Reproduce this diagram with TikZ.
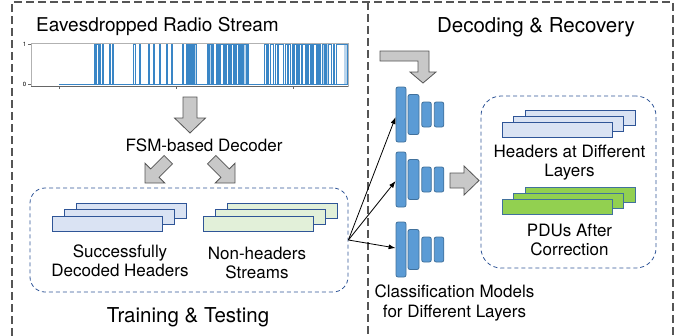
\documentclass[tikz,border=0pt]{standalone}
\usepackage{fontspec}
\setmainfont{TeX Gyre Heros}
\usetikzlibrary{arrows.meta}
\definecolor{framegray}{HTML}{555555}
\definecolor{boxblue}{HTML}{2F5597}
\definecolor{lightblue}{HTML}{DAE3F3}
\definecolor{lightgreen}{HTML}{E2F0D9}
\definecolor{brightgreen}{HTML}{92D050}
\definecolor{nnblue}{HTML}{5B9BD5}
\definecolor{nnborder}{HTML}{41719C}
\definecolor{arrowgray}{HTML}{C8C8C8}
\definecolor{sig}{HTML}{3A86C6}
\definecolor{siglight}{HTML}{BBD5EC}
\begin{document}
\begin{tikzpicture}[x=1pt,y=-1pt,
  outerframe/.style={draw=framegray, line width=1.3pt, dash pattern=on 8pt off 4pt},
  groupbox/.style={draw=boxblue, line width=0.8pt, dash pattern=on 4pt off 3pt, inner sep=0pt},
  layer/.style={draw=boxblue, line width=0.9pt, minimum width=110pt, minimum height=15pt, inner sep=0pt},
  bluelayer/.style={layer, fill=lightblue},
  greenlayer/.style={layer, fill=lightgreen},
  pdulayer/.style={layer, fill=brightgreen, draw=nnborder},
  nnbar/.style={draw=nnborder, fill=nnblue, rounded corners=2pt, line width=0.8pt, inner sep=0pt},
  blockarrow/.style={draw=framegray, fill=arrowgray, line width=0.8pt, line join=miter},
  lbl/.style={font=\fontsize{17}{19.5}\selectfont, align=center, inner sep=0pt},
  bigtitle/.style={font=\fontsize{20.5}{24}\selectfont, inner sep=0pt},
  conn/.style={-{Latex[length=7pt,width=5pt]}, line width=0.8pt, black},
  sigline/.style={draw=sig, line width=0.4pt}
]
\useasboundingbox (0,0) rectangle (684,335);

% outer frames
\draw[outerframe] (12,336) -- (12,2) -- (673,2) -- (673,336);
\draw[outerframe] (368,2) -- (368,336);

% titles
\node[font=\fontsize{19}{22}\selectfont, inner sep=0pt, anchor=base west] (stream) at (36,31) {Eavesdropped Radio Stream};
\node[bigtitle] (dectitle) at (536,27) {Decoding \& Recovery};
\node[bigtitle] (traintitle) at (188,317) {Training \& Testing};

% signal plot
\fill[siglight] (188,44) rectangle (196,84);
\fill[siglight] (207,44) rectangle (212,84);
\fill[siglight] (243,44) rectangle (248,84);
\fill[siglight] (323,44) rectangle (328,84);
\fill[siglight] (344,44) rectangle (347,84);
\draw[gray!60, line width=0.6pt] (31,43) rectangle (348,86);
\draw[gray!80!black, line width=0.7pt] (31,86) -- (348,86);
\foreach \t in {59,176,293} \draw[gray!80!black, line width=0.5pt] (\t,86) -- (\t,89);
\draw[gray!80!black, line width=0.5pt] (28,44) -- (31,44) (28,84) -- (31,84);
\node[font=\fontsize{6}{7}\selectfont, inner sep=0pt] (one) at (24.5,44) {1};
\node[font=\fontsize{6}{7}\selectfont, inner sep=0pt] (zero) at (24.5,84.5) {0};
\draw[sigline] (59,84) -- (348,84);
\foreach \a/\b in {94/95.5, 96.5/98, 99/100.5, 102/103, 109/110, 112/113, 133/135, 139/140.5,
  148/149.5, 153/154, 159/160.5, 166/167.5, 171/172, 182/183, 186/187, 188/189.5, 190/191,
  192/193, 194/196, 207/208, 209/211, 212/213, 216/217, 218/219, 220/223, 224/225, 226/228,
  229/230, 231/233, 234/235, 236/238, 239/240, 241/242, 243/246, 247/248, 264/266, 267/268,
  270/273, 275/277, 278/283, 285/287, 288/290, 292/293, 294/296, 297/298, 299/301, 302/305,
  306/307, 308/310, 311/312, 313/316, 317/318, 319/320, 322/324, 325/326, 328/331, 333/334, 336/347.5}
  \draw[sigline] (\a,84) |- (\b,44) -- (\b,84);

% down arrow from stream to decoder
\draw[blockarrow] (183,97) -- (197,97) -- (197,118) -- (205.5,118) -- (190,133) -- (174.5,118) -- (183,118) -- cycle;

\node[lbl, anchor=base] (fsm) at (204,151) {FSM-based Decoder};

% diagonal block arrows
\draw[blockarrow] (164.1,155.5) -- (172.5,163.9) -- (159.1,177.3) -- (164.8,183.0) -- (145,183) -- (145.0,163.2) -- (150.7,168.9) -- cycle;
\draw[blockarrow] (215.9,155.5) -- (229.3,168.9) -- (235.0,163.2) -- (235,183) -- (215.2,183.0) -- (220.9,177.3) -- (207.5,163.9) -- cycle;

% training group box
\node[groupbox, rounded corners=15pt, minimum width=318pt, minimum height=104pt] (train) at (189,240) {};

\node[bluelayer] (sh3) at (131,210.5) {};
\node[bluelayer] (sh2) at (119,217) {};
\node[bluelayer] (sh1) at (107,223.5) {};
\node[greenlayer] (ns3) at (282,210.5) {};
\node[greenlayer] (ns2) at (270,217) {};
\node[greenlayer] (ns1) at (258,223.5) {};

\node[lbl] (succ) at (120,261) {Successfully\\Decoded Headers};
\node[lbl] (nonh) at (257,263) {Non-headers\\Streams};

% bent arrow
\draw[blockarrow] (380,51) -- (429,51) -- (429,72) -- (436,72) -- (423,83) -- (410,72) -- (418,72) -- (418,61) -- (380,61) -- cycle;

% classification models
\foreach \m/\cy in {1/114.5, 2/179.5, 3/249.5} {
  \node[nnbar, minimum width=10pt, minimum height=55pt] (m\m b1) at (401,\cy) {};
  \node[nnbar, minimum width=11pt, minimum height=40pt] (m\m b2) at (413.5,\cy) {};
  \node[nnbar, minimum width=9.5pt, minimum height=25pt] (m\m b3) at (426.5,\cy) {};
  \node[nnbar, minimum width=9.5pt, minimum height=25pt] (m\m b4) at (439,\cy) {};
}
\node[lbl] (cls) at (454.5,303) {Classification Models\\for Different Layers};

\draw[conn] (train.east) -- ([yshift=-2.5pt]m1b1.west);
\draw[conn] (train.east) -- ([yshift=-1.5pt]m2b1.west);
\draw[conn] (train.east) -- ([yshift=1.5pt]m3b1.west);

% gray arrow to recovery
\draw[blockarrow] (450,173) -- (464,173) -- (464,166) -- (479,180.5) -- (464,195) -- (464,188) -- (450,188) -- cycle;

% recovery group box
\node[groupbox, rounded corners=20pt, minimum width=175pt, minimum height=172pt] (recov) at (568.5,182) {};

\node[bluelayer] (hd3) at (580,117.5) {};
\node[bluelayer] (hd2) at (568.5,123.5) {};
\node[bluelayer] (hd1) at (557,129.5) {};
\node[lbl] (hdl) at (569.5,162.5) {Headers at Different\\Layers};

\node[pdulayer] (pd3) at (580,194.5) {};
\node[pdulayer] (pd2) at (568.5,200.5) {};
\node[pdulayer] (pd1) at (557,206.5) {};
\node[lbl] (pdl) at (569.5,240) {PDUs After\\Correction};
\end{tikzpicture}
\end{document}
